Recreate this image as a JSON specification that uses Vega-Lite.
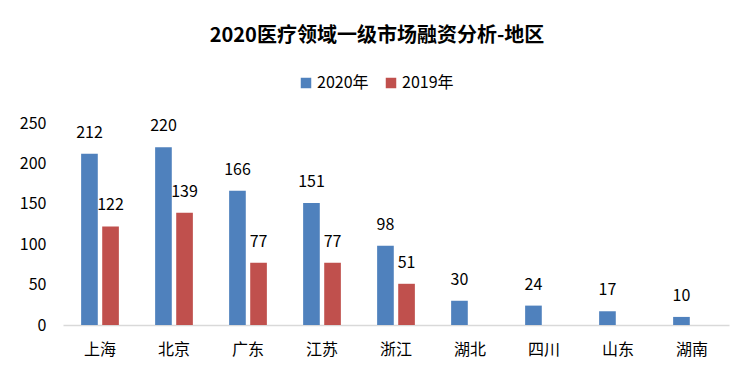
{
  "$schema": "https://vega.github.io/schema/vega-lite/v6.json",
  "autosize": "none",
  "padding": {"left": 63, "top": 123, "right": 23, "bottom": 58},
  "width": 666,
  "height": 202,
  "background": "white",
  "title": {
    "text": "2020医疗领域一级市场融资分析-地区",
    "fontSize": 20,
    "fontWeight": "bold",
    "font": "Noto Sans CJK SC",
    "color": "#000000",
    "anchor": "middle",
    "dx": -19,
    "offset": 29
  },
  "data": {
    "values": [
      {"region": "上海", "year": "2020年", "value": 212},
      {"region": "北京", "year": "2020年", "value": 220},
      {"region": "广东", "year": "2020年", "value": 166},
      {"region": "江苏", "year": "2020年", "value": 151},
      {"region": "浙江", "year": "2020年", "value": 98},
      {"region": "湖北", "year": "2020年", "value": 30},
      {"region": "四川", "year": "2020年", "value": 24},
      {"region": "山东", "year": "2020年", "value": 17},
      {"region": "湖南", "year": "2020年", "value": 10},
      {"region": "上海", "year": "2019年", "value": 122},
      {"region": "北京", "year": "2019年", "value": 139},
      {"region": "广东", "year": "2019年", "value": 77},
      {"region": "江苏", "year": "2019年", "value": 77},
      {"region": "浙江", "year": "2019年", "value": 51}
    ]
  },
  "encoding": {
    "x": {
      "field": "region",
      "type": "nominal",
      "sort": ["上海", "北京", "广东", "江苏", "浙江", "湖北", "四川", "山东", "湖南"],
      "scale": {"paddingInner": 0, "paddingOuter": 0},
      "axis": {
        "title": null,
        "labelAngle": 0,
        "ticks": false,
        "domainColor": "#d9d9d9",
        "domainWidth": 1.5,
        "labelFontSize": 16,
        "labelFont": "Noto Sans CJK SC",
        "labelColor": "#000000",
        "labelPadding": 16
      }
    },
    "xOffset": {
      "field": "year",
      "type": "nominal",
      "sort": ["2020年", "2019年"],
      "scale": {"paddingInner": 0.21, "paddingOuter": 0.86}
    },
    "y": {
      "field": "value",
      "type": "quantitative",
      "scale": {"domain": [0, 250]},
      "axis": {
        "title": null,
        "values": [0, 50, 100, 150, 200, 250],
        "domain": false,
        "ticks": false,
        "grid": false,
        "labelFontSize": 16,
        "labelFont": "Noto Sans CJK SC",
        "labelColor": "#000000",
        "labelPadding": 17
      }
    }
  },
  "layer": [
    {
      "mark": {"type": "bar"},
      "encoding": {
        "color": {
          "field": "year",
          "type": "nominal",
          "sort": ["2020年", "2019年"],
          "scale": {"domain": ["2020年", "2019年"], "range": ["#4F81BD", "#C0504D"]},
          "legend": {
            "title": null,
            "orient": "none",
            "direction": "horizontal",
            "legendX": 235,
            "legendY": -48,
            "symbolType": "square",
            "symbolSize": 110,
            "symbolStrokeWidth": 0,
            "labelFontSize": 16,
            "labelFont": "Noto Sans CJK SC",
            "labelColor": "#000000",
            "columnPadding": 14,
            "labelOffset": 3
          }
        }
      }
    },
    {
      "mark": {
        "type": "text",
        "baseline": "middle",
        "dy": -21,
        "fontSize": 16,
        "font": "Noto Sans CJK SC",
        "color": "#000000"
      },
      "encoding": {
        "text": {"field": "value", "type": "quantitative"}
      }
    }
  ],
  "config": {"view": {"stroke": null}}
}
